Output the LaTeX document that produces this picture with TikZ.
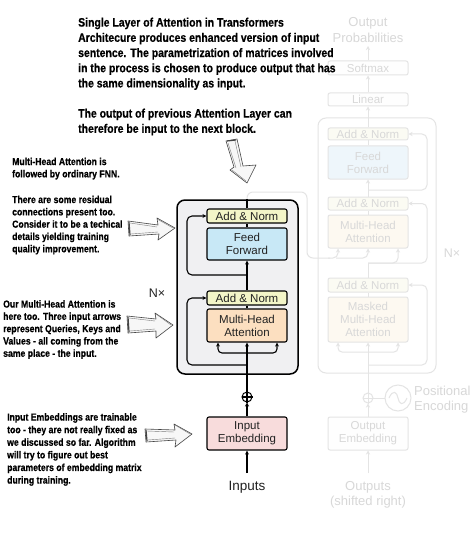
\documentclass[tikz,border=0pt]{standalone}
\usepackage{fontspec}
\setmainfont{Liberation Sans}
\newfontfamily\notefont{Liberation Sans}[FakeStretch=0.85, BoldFeatures={FakeBold=0.5}]
\usetikzlibrary{arrows.meta,calc}
\definecolor{anY}{HTML}{F3F5C8}
\definecolor{ffB}{HTML}{C8E8F6}
\definecolor{mhaO}{HTML}{FCDFC0}
\definecolor{embP}{HTML}{F8DCDC}
\definecolor{encF}{HTML}{F0F0F2}
\definecolor{lblK}{HTML}{222222}
\definecolor{fLine}{HTML}{E4E4E4}
\definecolor{fText}{HTML}{D8D8D8}
\definecolor{fAn}{HTML}{FBFBF3}
\definecolor{fFF}{HTML}{EEF6FB}
\definecolor{fMHA}{HTML}{FDF9F1}
\definecolor{fOut}{HTML}{FEFEFE}
\definecolor{skK}{HTML}{444444}
\begin{document}
\begin{tikzpicture}[x=1pt,y=-1pt,
  blk/.style={draw=black, line width=1.1pt, rounded corners=2pt, minimum width=80pt,
    inner sep=0pt, align=center, text=lblK, font=\fontsize{11.5}{13}\selectfont},
  anbox/.style={blk, fill=anY, minimum height=14pt},
  ffbox/.style={blk, fill=ffB, minimum height=32pt},
  mhabox/.style={blk, fill=mhaO, minimum height=33pt},
  embbox/.style={blk, fill=embP, minimum height=33pt},
  fblk/.style={draw=fLine, line width=1pt, rounded corners=2pt, minimum width=80pt,
    inner sep=0pt, align=center, text=fText, font=\fontsize{11.5}{13}\selectfont},
  arr/.style={line width=1.1pt, -{Stealth[length=4pt,width=4pt]}},
  ln/.style={line width=1.1pt},
  farr/.style={draw=fLine, line width=1pt, -{Stealth[length=4pt,width=4pt]}},
  fln/.style={draw=fLine, line width=1pt},
  note/.style={anchor=north west, inner sep=0pt, align=left, text=black},
  sketch/.style={draw=skK, line width=0.6pt, fill=gray!6, line join=round},
  sketch2/.style={draw=skK!70, line width=0.4pt, line join=round}
]
\useasboundingbox (0,0) rectangle (474,556);
\fill[white] (0,0) rectangle (474,556);

% ---------------- faded decoder ----------------
\node[draw=fLine, line width=1pt, rounded corners=8pt, minimum width=118pt, minimum height=255pt, inner sep=0pt] (dec) at (377,245.5) {};
\node[fblk, fill=fOut, minimum height=14pt] (dsoft) at (368,68) {Softmax};
\node[fblk, fill=fOut, minimum height=13pt] (dlin) at (368,99.5) {Linear};
\node[fblk, fill=fAn, minimum height=12pt] (danT) at (368,134) {Add \& Norm};
\node[fblk, fill=fFF, minimum height=33pt] (dff) at (368,162.5) {Feed\\Forward};
\node[fblk, fill=fAn, minimum height=13pt] (danM) at (368,203.5) {Add \& Norm};
\node[fblk, fill=fMHA, minimum height=33pt] (dmha) at (368,231.5) {Multi-Head\\Attention};
\node[fblk, fill=fAn, minimum height=14pt] (danL) at (368,285) {Add \& Norm};
\node[fblk, fill=fMHA, minimum height=45pt] (dmmha) at (368,319.5) {Masked\\Multi-Head\\Attention};
\node[fblk, fill=fOut, minimum height=33pt] (demb) at (368,433.5) {Output\\Embedding};
\node[circle, draw=fLine, line width=1pt, minimum size=10pt, inner sep=0pt] (dplus) at (368,398) {};
\node[circle, draw=fLine, line width=1pt, minimum size=26pt, inner sep=0pt] (dsine) at (398,398) {};
\node[text=fText, align=center, font=\fontsize{13}{15.5}\selectfont] (dprob) at (368,30) {Output\\Probabilities};
\node[text=fText, align=center, font=\fontsize{13}{15.5}\selectfont] (douts) at (368,495) {Outputs\\(shifted right)};
\node[text=fText, anchor=west, align=left, inner sep=0pt, font=\fontsize{13}{15.5}\selectfont] (dpos) at (414,399.5) {Positional\\Encoding};
\node[text=fText, font=\fontsize{12.5}{14}\selectfont] (dNx) at (452,253) {N×};
\coordinate (doutin) at (368,473);
\coordinate (dprobin) at (368,46);

\draw[fln] (dplus.north) -- (dplus.south) (dplus.west) -- (dplus.east);
\draw[fln] (dplus.east) -- (dsine.west);
\draw[fln] ($(dsine.center)+(-9,0)$) .. controls ($(dsine.center)+(-5,-9)$) and ($(dsine.center)+(-1,-6)$) .. (dsine.center)
  .. controls ($(dsine.center)+(1,6)$) and ($(dsine.center)+(5,9)$) .. ($(dsine.center)+(9,0)$);
\draw[farr] (doutin) -- (demb.south);
\draw[farr] (demb.north) -- (dplus.south);
\draw[farr] (dplus.north) -- (dmmha.south);
\coordinate (dqb) at (368,352);
\coordinate (dqL) at (338,352);
\coordinate (dqR) at (398,352);
\draw[farr, rounded corners=4pt] (dqb) -- (dqL) -- (dqL |- dmmha.south);
\draw[farr, rounded corners=4pt] (dqb) -- (dqR) -- (dqR |- dmmha.south);
\coordinate (drb) at (368,365);
\coordinate (drbr) at (427,365);
\draw[farr, rounded corners=5pt] (drb) -- (drbr) -- (drbr |- danL.east) -- (danL.east);
\draw[fln] (dmmha.north) -- (danL.south);
\coordinate (dmid) at (368,263);
\coordinate (dmidr) at (427,263);
\coordinate (dq2R) at (398,263);
\draw[fln] (danL.north) -- (dmid);
\draw[farr, rounded corners=5pt] (dmid) -- (dmidr) -- (dmidr |- danM.east) -- (danM.east);
\draw[farr, rounded corners=5pt] (dmid) -- (dq2R) -- (dq2R |- dmha.south);
\draw[fln] (dmha.north) -- (danM.south);
\draw[farr] (danM.north) -- (dff.south);
\draw[fln] (dff.north) -- (danT.south);
\coordinate (dtb) at (368,190);
\coordinate (dtbr) at (427,190);
\draw[farr, rounded corners=5pt] (dtb) -- (dtbr) -- (dtbr |- danT.east) -- (danT.east);
\draw[farr] (danT.north) -- (dlin.south);
\draw[farr] (dlin.north) -- (dsoft.south);
\draw[farr] (dsoft.north) -- (dprobin);

% ---------------- encoder ----------------
\node[draw=black, line width=1.5pt, rounded corners=8pt, fill=encF, minimum width=121pt, minimum height=174pt, inner sep=0pt] (enc) at (237.5,287) {};
\node[anbox] (anT) at (247,216) {Add \& Norm};
\node[ffbox] (ff) at (247,244) {Feed\\Forward};
\node[anbox] (anB) at (247,298) {Add \& Norm};
\node[mhabox] (mha) at (247,325.5) {Multi-Head\\Attention};
\node[embbox] (emb) at (247,433.5) {Input\\Embedding};
\node[circle, draw=black, line width=1pt, minimum size=10pt, inner sep=0pt] (plus) at (247,397) {};
\node[text=lblK, font=\fontsize{13.5}{15}\selectfont] (inputs) at (247,487) {Inputs};
\node[text=lblK, font=\fontsize{12.5}{14}\selectfont] (nx) at (157,293) {N×};
\coordinate (inin) at (247,473);

% encoder -> decoder (faded)
\coordinate (e1) at (247,192);
\coordinate (e2) at (307,192);
\coordinate (e3) at (307,258);
\coordinate (kL) at (338,258);
\coordinate (kM) at (368,258);
\draw[fln, rounded corners=6pt] (anT.north) -- (e1) -- (e2) -- (e3) -- ($(kL)+(-8,0)$);
\draw[farr, rounded corners=5pt] ($(kL)+(-10,0)$) -- (kL) -- (kL |- dmha.south);
\draw[farr, rounded corners=5pt] ($(kL)+(-2,0)$) -- (kM) -- (kM |- dmha.south);

\draw[ln] (plus.north) -- (plus.south) (plus.west) -- (plus.east);
\draw[arr] (inin) -- (emb.south);
\draw[arr] (emb.north) -- (plus.south);
\draw[arr] (plus.north) -- (mha.south);
\coordinate (qb) at (247,353);
\coordinate (qL) at (218,353);
\coordinate (qR) at (277,353);
\draw[arr, rounded corners=4pt] (qb) -- (qL) -- (qL |- mha.south);
\draw[arr, rounded corners=4pt] (qb) -- (qR) -- (qR |- mha.south);
\coordinate (rb) at (247,365);
\coordinate (rbl) at (187,365);
\draw[arr, rounded corners=5pt] (rb) -- (rbl) -- (rbl |- anB.west) -- (anB.west);
\draw[ln] (mha.north) -- (anB.south);
\draw[arr] (anB.north) -- (ff.south);
\draw[ln] (ff.north) -- (anT.south);
\coordinate (rt) at (247,275);
\coordinate (rtl) at (187,275);
\draw[arr, rounded corners=5pt] (rt) -- (rtl) -- (rtl |- anT.west) -- (anT.west);
\draw[ln] (anT.north) -- (anT.north |- enc.north);

% ---------------- notes ----------------
\node[note, font=\notefont\bfseries\fontsize{12.3}{15.2}\selectfont] (topnote) at (78,17.5)
 {Single Layer of Attention in Transformers\\
  Architecure produces enhanced version of input\\
  sentence. The parametrization of matrices involved\\
  in the process is chosen to produce output that has\\
  the same dimensionality as input.\\[15pt]
  The output of previous Attention Layer can\\
  therefore be input to the next block.};
\node[note, font=\notefont\bfseries\fontsize{10.2}{12.3}\selectfont] (note1) at (12,157.5)
 {Multi-Head Attention is\\
  followed by ordinary FNN.\\[13.4pt]
  There are some residual\\
  connections present too.\\
  Consider it to be a techical\\
  details yielding training\\
  quality improvement.};
\node[note, font=\notefont\bfseries\fontsize{10.2}{12.3}\selectfont] (note2) at (3,300)
 {Our Multi-Head Attention is\\
  here too. Three input arrows\\
  represent Queries, Keys and\\
  Values - all coming from the\\
  same place - the input.};
\node[note, font=\notefont\bfseries\fontsize{10.2}{12.6}\selectfont] (note3) at (7,413)
 {Input Embeddings are trainable\\
  too - they are not really fixed as\\
  we discussed so far. Algorithm\\
  will try to figure out best\\
  parameters of embedding matrix\\
  during training.};

% ---------------- sketched arrows ----------------
% arrow 1
\draw[sketch] (128,221) -- (158,225) -- (157,218) -- (175,228) -- (158,240) -- (159,234) -- (129,236) -- cycle;
\draw[sketch2] (130,223) -- (157,227) (131,234) -- (158,232) (157,219) -- (173,228);
\draw[skK, line width=1.2pt] (129,222) -- (130,235);
% arrow 2
\draw[sketch] (127,316) -- (156,319) -- (155,313) -- (173,325) -- (156,338) -- (156,331) -- (128,333) -- cycle;
\draw[sketch2] (129,318) -- (155,321) (130,331) -- (155,329) (156,314) -- (171,325);
\draw[skK, line width=1.2pt] (128,317) -- (129,332);
% arrow 3
\draw[sketch] (145,429) -- (175,430) -- (174,424) -- (192,434) -- (175,447) -- (176,440) -- (146,442) -- cycle;
\draw[sketch2] (147,431) -- (174,432) (148,440) -- (175,438) (175,425) -- (190,434);
\draw[skK, line width=1.2pt] (146,430) -- (147,441);
% down arrow
\draw[sketch] (226,141) -- (237,139) -- (243,166) -- (256,165) -- (247,183) -- (230,170) -- (234,167) -- cycle;
\draw[sketch2] (228,143) -- (236,168) (235,141) -- (241,167) (232,170) -- (246,181);
\draw[skK, line width=1.2pt] (227,141) -- (236,140);
\end{tikzpicture}
\end{document}
